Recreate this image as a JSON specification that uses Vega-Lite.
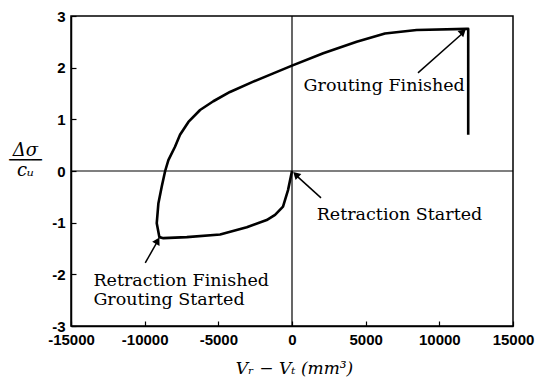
{
  "$schema": "https://vega.github.io/schema/vega-lite/v6.json",
  "width": 442,
  "height": 310,
  "autosize": {"type": "none"},
  "padding": {"left": 71, "top": 16, "right": 23, "bottom": 54},
  "background": "white",
  "config": {
    "view": {"stroke": "black", "strokeWidth": 1.5},
    "axis": {
      "grid": false,
      "domainColor": "black",
      "domainWidth": 1.5,
      "tickColor": "black",
      "tickWidth": 1.2,
      "tickSize": -5,
      "labelFont": "Liberation Sans",
      "labelFontWeight": "bold",
      "labelFontSize": 15,
      "labelColor": "black",
      "labelExpr": "'' + datum.value"
    }
  },
  "datasets": {
    "curve": [
      {"order": 1, "x": 0, "y": 0},
      {"order": 2, "x": -270, "y": -0.37},
      {"order": 3, "x": -610, "y": -0.69},
      {"order": 4, "x": -1150, "y": -0.85},
      {"order": 5, "x": -1720, "y": -0.95},
      {"order": 6, "x": -3070, "y": -1.09},
      {"order": 7, "x": -4880, "y": -1.23},
      {"order": 8, "x": -7140, "y": -1.28},
      {"order": 9, "x": -8730, "y": -1.3},
      {"order": 10, "x": -9000, "y": -1.28},
      {"order": 11, "x": -9180, "y": -1.01},
      {"order": 12, "x": -9070, "y": -0.63},
      {"order": 13, "x": -8840, "y": -0.3},
      {"order": 14, "x": -8610, "y": 0},
      {"order": 15, "x": -8390, "y": 0.21},
      {"order": 16, "x": -7940, "y": 0.47},
      {"order": 17, "x": -7600, "y": 0.7},
      {"order": 18, "x": -7030, "y": 0.95},
      {"order": 19, "x": -6240, "y": 1.18},
      {"order": 20, "x": -5340, "y": 1.35},
      {"order": 21, "x": -4210, "y": 1.53},
      {"order": 22, "x": -2630, "y": 1.73},
      {"order": 23, "x": -1270, "y": 1.89},
      {"order": 24, "x": 0, "y": 2.04},
      {"order": 25, "x": 2120, "y": 2.28},
      {"order": 26, "x": 4390, "y": 2.5},
      {"order": 27, "x": 6310, "y": 2.66},
      {"order": 28, "x": 8460, "y": 2.73},
      {"order": 29, "x": 11850, "y": 2.75},
      {"order": 30, "x": 11960, "y": 2.75},
      {"order": 31, "x": 11960, "y": 0.7}
    ],
    "arrows": [
      {"x": 8550, "y": 1.9, "x2": 11600, "y2": 2.67},
      {"x": 1970, "y": -0.52, "x2": 300, "y2": -0.09},
      {"x": -9960, "y": -1.78, "x2": -9170, "y2": -1.38}
    ],
    "heads": [
      {"x": 11550, "y": 2.68, "angle": 47.5},
      {"x": 320, "y": -0.085, "angle": 313},
      {"x": -9160, "y": -1.37, "angle": 29}
    ],
    "labelsRight": [
      {"x": 11730, "y": 1.65, "text": "Grouting Finished"}
    ],
    "labelsLeft": [
      {"x": 1675, "y": -0.85, "text": "Retraction Started"},
      {"x": -13480, "y": -2.12, "text": "Retraction Finished"},
      {"x": -13480, "y": -2.5, "text": "Grouting Started"}
    ]
  },
  "layer": [
    {
      "data": {"values": [{"v": 0}]},
      "mark": {"type": "rule", "color": "black", "strokeWidth": 1.2},
      "encoding": {"x": {"field": "v", "type": "quantitative", "scale": {"domain": [-15000, 15000]}}}
    },
    {
      "data": {"values": [{"v": 0}]},
      "mark": {"type": "rule", "color": "black", "strokeWidth": 1.2},
      "encoding": {"y": {"field": "v", "type": "quantitative", "scale": {"domain": [-3, 3]}}}
    },
    {
      "data": {"name": "curve"},
      "mark": {"type": "line", "color": "black", "strokeWidth": 2.6, "strokeJoin": "round", "strokeCap": "butt"},
      "encoding": {
        "x": {
          "field": "x", "type": "quantitative",
          "scale": {"domain": [-15000, 15000], "nice": false, "zero": false},
          "axis": {
            "values": [-15000, -10000, -5000, 0, 5000, 10000, 15000],
            "labelPadding": 11,
            "labelFlush": false,
            "title": "Vᵣ − Vₜ  (mm³)",
            "titleFont": "DejaVu Serif",
            "titleFontStyle": "italic",
            "titleFontWeight": "normal",
            "titleFontSize": 17,
            "titleColor": "black",
            "titleX": 223,
            "titleY": 47,
            "titleBaseline": "alphabetic",
            "titleAlign": "center"
          }
        },
        "y": {
          "field": "y", "type": "quantitative",
          "scale": {"domain": [-3, 3], "nice": false, "zero": false},
          "axis": {
            "values": [-3, -2, -1, 0, 1, 2, 3],
            "labelPadding": 11,
            "labelFlush": false,
            "title": ["Δσ", "───", "cᵤ"],
            "titleFont": "DejaVu Serif",
            "titleFontStyle": "italic",
            "titleFontWeight": "normal",
            "titleFontSize": 18,
            "titleLineHeight": 10,
            "titleColor": "black",
            "titleAngle": 0,
            "titleAlign": "center",
            "titleBaseline": "middle",
            "titleX": -46,
            "titleY": 134
          }
        },
        "order": {"field": "order", "type": "quantitative"}
      }
    },
    {
      "data": {"name": "arrows"},
      "mark": {"type": "rule", "color": "black", "strokeWidth": 1.5},
      "encoding": {
        "x": {"field": "x", "type": "quantitative"},
        "y": {"field": "y", "type": "quantitative"},
        "x2": {"field": "x2"},
        "y2": {"field": "y2"}
      }
    },
    {
      "data": {"name": "heads"},
      "mark": {"type": "point", "shape": "triangle", "filled": true, "color": "black", "size": 70, "opacity": 1},
      "encoding": {
        "x": {"field": "x", "type": "quantitative"},
        "y": {"field": "y", "type": "quantitative"},
        "angle": {"field": "angle", "type": "quantitative", "scale": null}
      }
    },
    {
      "data": {"name": "labelsRight"},
      "mark": {"type": "text", "font": "DejaVu Serif", "fontSize": 17.5, "color": "black", "baseline": "middle", "align": "right"},
      "encoding": {
        "x": {"field": "x", "type": "quantitative"},
        "y": {"field": "y", "type": "quantitative"},
        "text": {"field": "text"}
      }
    },
    {
      "data": {"name": "labelsLeft"},
      "mark": {"type": "text", "font": "DejaVu Serif", "fontSize": 17.5, "color": "black", "baseline": "middle", "align": "left"},
      "encoding": {
        "x": {"field": "x", "type": "quantitative"},
        "y": {"field": "y", "type": "quantitative"},
        "text": {"field": "text"}
      }
    }
  ]
}
